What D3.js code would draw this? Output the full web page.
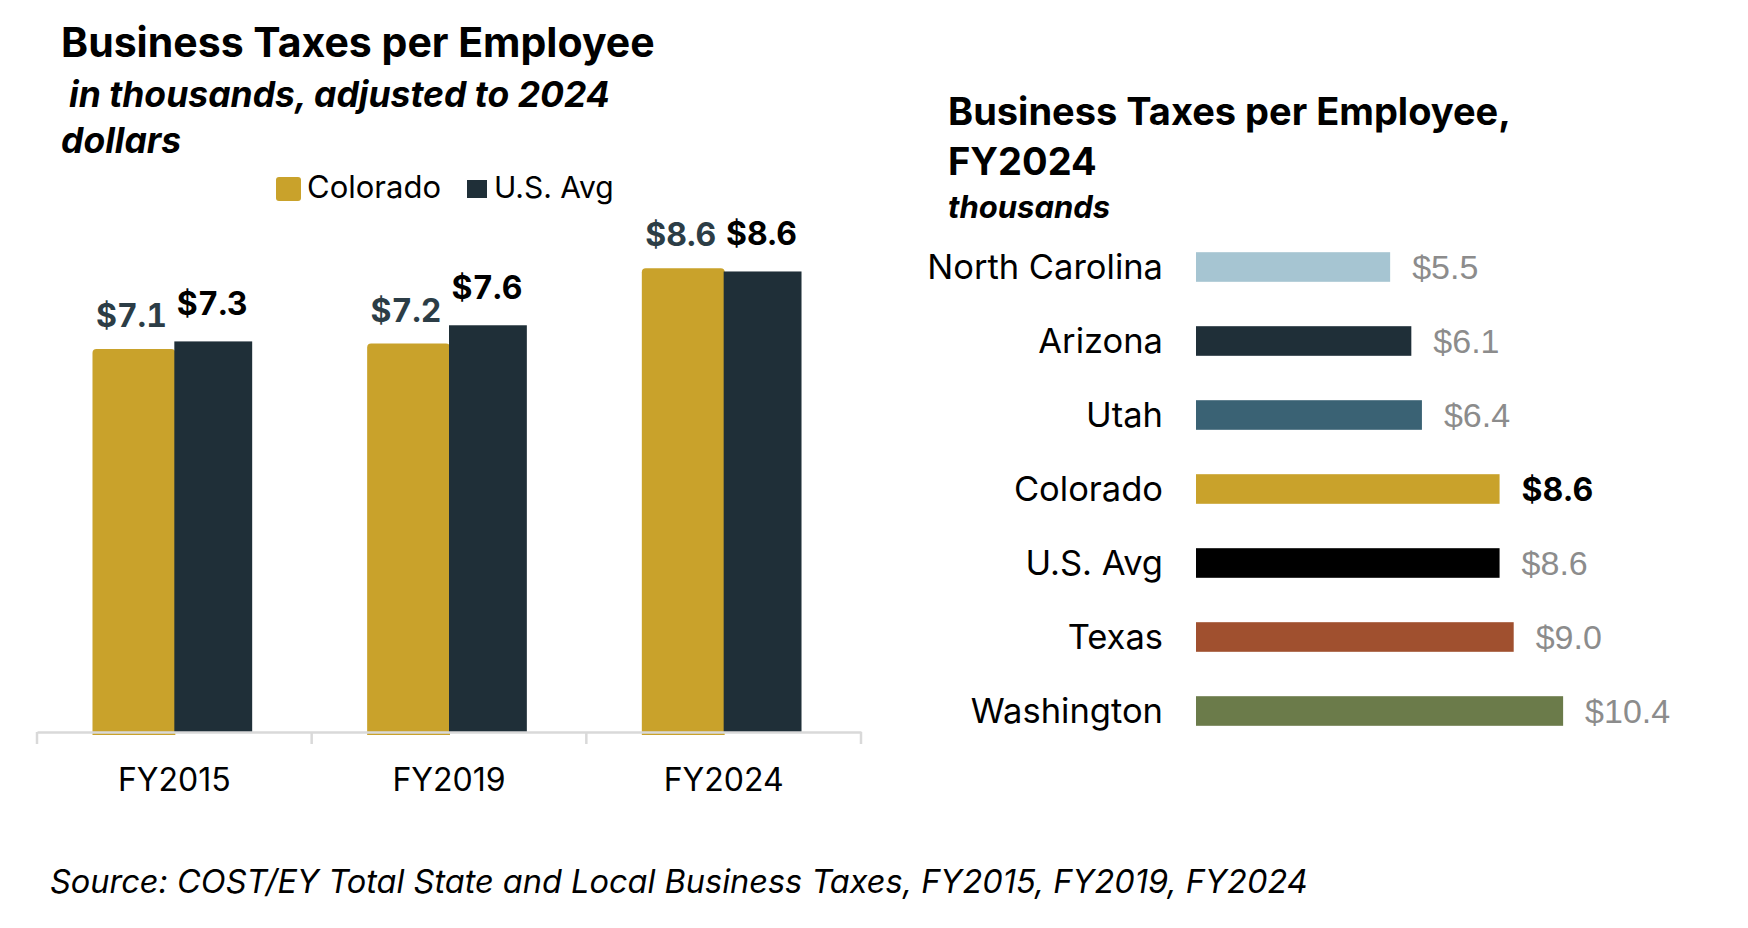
<!DOCTYPE html>
<html>
<head>
<meta charset="utf-8">
<script src="https://cdn.jsdelivr.net/npm/d3@7"></script>
<style>
  body { margin: 0; background: #fff; }
  text { font-family: Inter, "Open Sans", sans-serif; }
</style>
</head>
<body>
<div id="chart"></div>
<script>
// left chart data
var years = ["FY2015", "FY2019", "FY2024"];
var series = ["Colorado", "U.S. Avg"];
var coloradoVals = [7.12, 7.22, 8.62];
var usVals = [7.26, 7.56, 8.56];

// right chart data
var states = ["North Carolina", "Arizona", "Utah", "Colorado", "U.S. Avg", "Texas", "Washington"];
var stateVals = [5.5, 6.1, 6.4, 8.6, 8.6, 9.0, 10.4];
var stateColors = ["#a6c5d2", "#1f2f38", "#3a6274", "#c9a22b", "#000000", "#a0502f", "#6b7b4a"];

var gold = "#c9a22b", dark = "#1f2f38";

var svg = d3.select("#chart").append("svg")
  .attr("width", 1748).attr("height", 928);

// ---------- left: grouped columns ----------
var left = svg.append("g");

left.append("text").attr("x", 61).attr("y", 57)
  .style("font-size", "41px").style("font-weight", "bold")
  .text("Business Taxes per Employee");
left.append("text").attr("x", 69).attr("y", 107)
  .style("font-size", "35.5px").style("font-weight", "bold").style("font-style", "italic")
  .text("in thousands, adjusted to 2024");
left.append("text").attr("x", 61).attr("y", 153)
  .style("font-size", "35.5px").style("font-weight", "bold").style("font-style", "italic")
  .text("dollars");

// legend
left.append("rect").attr("x", 276).attr("y", 177).attr("width", 25).attr("height", 24)
  .attr("rx", 3).attr("fill", gold);
left.append("text").attr("x", 307).attr("y", 198).style("font-size", "31px").text("Colorado");
left.append("rect").attr("x", 467).attr("y", 180).attr("width", 20).attr("height", 18)
  .attr("fill", dark);
left.append("text").attr("x", 494).attr("y", 198).style("font-size", "30px").text("U.S. Avg");

var x0 = d3.scaleBand().domain(years).range([37, 861]);
var x1 = d3.scaleBand().domain(series).range([0, x0.bandwidth()]).paddingOuter(0.72);
var y = d3.scaleLinear().domain([0, 10]).range([732, 194]);

var rows = years.map(function(d, i) {
  return { year: d, vals: [coloradoVals[i], usVals[i]] };
});

var groups = left.selectAll(".grp").data(rows).enter().append("g")
  .attr("class", "grp")
  .attr("transform", function(d) { return "translate(" + x0(d.year) + ",0)"; });

// colorado bars (slightly rounded top, a sliver under the axis like the original)
groups.append("path")
  .attr("fill", gold)
  .attr("d", function(d) {
    var bx = x1("Colorado") - 2, bw = x1.bandwidth() + 3, top = y(d.vals[0]), bot = y(0) + 3, r = 4;
    return "M" + bx + "," + bot + "V" + (top + r) + "Q" + bx + "," + top + " " + (bx + r) + "," + top +
      "H" + (bx + bw - r) + "Q" + (bx + bw) + "," + top + " " + (bx + bw) + "," + (top + r) + "V" + bot + "Z";
  });
groups.append("rect")
  .attr("fill", dark)
  .attr("x", x1("U.S. Avg"))
  .attr("width", x1.bandwidth() - 2)
  .attr("y", function(d) { return y(d.vals[1]); })
  .attr("height", function(d) { return y(0) - y(d.vals[1]); });

groups.append("text")
  .attr("x", x1("Colorado") + x1.bandwidth() / 2 - 3)
  .attr("y", function(d) { return y(d.vals[0]) - 22; })
  .attr("text-anchor", "middle")
  .style("font-size", "32px").style("font-weight", "bold").style("font-variant-numeric", "tabular-nums")
  .attr("fill", "#2c3d46")
  .text(function(d) { return "$" + d.vals[0].toFixed(1); });
groups.append("text")
  .attr("x", x1("U.S. Avg") + x1.bandwidth() / 2 - 2)
  .attr("y", function(d) { return y(d.vals[1]) - 26; })
  .attr("text-anchor", "middle")
  .style("font-size", "32px").style("font-weight", "bold").style("font-variant-numeric", "tabular-nums")
  .attr("fill", "#000")
  .text(function(d) { return "$" + d.vals[1].toFixed(1); });

// x axis
var xAxis = left.append("g").attr("transform", "translate(0," + y(0) + ")")
  .call(d3.axisBottom(x0).tickSize(0).tickPadding(36));
xAxis.select(".domain").attr("stroke", "#d9d9d9").attr("stroke-width", 2.5);
xAxis.selectAll(".tick text").style("font-size", "32px").attr("fill", "#000");
var edges = years.map(function(d) { return x0(d); }).concat([x0.range()[1]]);
xAxis.selectAll(".edge").data(edges).enter().append("line")
  .attr("x1", function(d) { return d; }).attr("x2", function(d) { return d; })
  .attr("y1", 0).attr("y2", 12)
  .attr("stroke", "#d9d9d9").attr("stroke-width", 2.5);

left.append("text").attr("x", 50).attr("y", 893)
  .style("font-size", "32.5px").style("font-style", "italic")
  .text("Source: COST/EY Total State and Local Business Taxes, FY2015, FY2019, FY2024");

// ---------- right: horizontal bars ----------
var right = svg.append("g");

right.append("text").attr("x", 948).attr("y", 125)
  .style("font-size", "38px").style("font-weight", "bold")
  .text("Business Taxes per Employee,");
right.append("text").attr("x", 948).attr("y", 175)
  .style("font-size", "38px").style("font-weight", "bold")
  .text("FY2024");
right.append("text").attr("x", 948).attr("y", 218)
  .style("font-size", "31px").style("font-weight", "bold").style("font-style", "italic")
  .text("thousands");

var xs = d3.scaleLinear().domain([0, 12]).range([1196, 1196 + 12 * 35.3]);
var ys = d3.scaleBand().domain(states).range([230, 748]).paddingInner(0.6).paddingOuter(0.3);

right.selectAll(".hbar").data(states).enter().append("rect")
  .attr("class", "hbar")
  .attr("x", xs(0))
  .attr("y", function(d) { return ys(d); })
  .attr("height", ys.bandwidth())
  .attr("width", function(d, i) { return xs(stateVals[i]) - xs(0); })
  .attr("fill", function(d, i) { return stateColors[i]; });

right.selectAll(".cat").data(states).enter().append("text")
  .attr("x", 1163)
  .attr("y", function(d) { return ys(d) + ys.bandwidth() / 2; })
  .attr("dy", "0.35em")
  .attr("text-anchor", "end")
  .style("font-size", "34.5px")
  .text(function(d) { return d; });

right.selectAll(".val").data(states).enter().append("text")
  .attr("x", function(d, i) { return xs(stateVals[i]) + 22; })
  .attr("y", function(d) { return ys(d) + ys.bandwidth() / 2; })
  .attr("dy", "0.36em")
  .style("font-family", function(d) { return d == "Colorado" ? null : "'Liberation Sans', Arial, sans-serif"; })
  .style("font-size", function(d) { return d == "Colorado" ? "32px" : "34px"; })
  .style("font-weight", function(d) { return d == "Colorado" ? "bold" : "normal"; })
  .attr("fill", function(d) { return d == "Colorado" ? "#000" : "#8c8c8c"; })
  .text(function(d, i) { return "$" + stateVals[i].toFixed(1); });
</script>
</body>
</html>
